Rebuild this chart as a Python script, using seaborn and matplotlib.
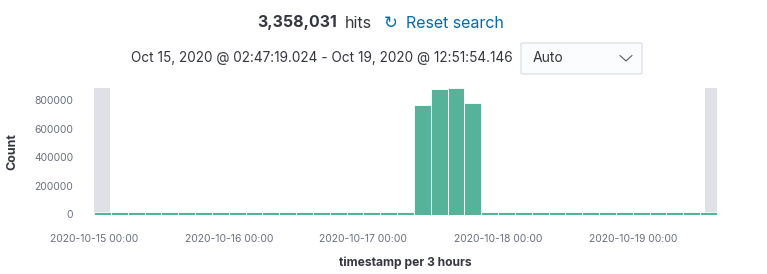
import numpy as np
import pandas as pd
import matplotlib
matplotlib.use("Agg")
import matplotlib.pyplot as plt
import matplotlib.dates as mdates
import seaborn as sns
from matplotlib.patches import FancyBboxPatch
from matplotlib.lines import Line2D

# ---------------- data ----------------
bin_starts = pd.date_range("2020-10-15 00:00", "2020-10-19 12:00", freq="3h")
counts = [
    14000, 14000, 14000, 14000, 14000, 14000, 14000, 14000,   # Oct 15
    14000, 14000, 14000, 14000, 14000, 14000, 14000, 14000,   # Oct 16
    14000, 14000, 14000, 769000, 876000, 885000, 778000, 14000,  # Oct 17
    14000, 14000, 14000, 14000, 14000, 14000, 14000, 14000,   # Oct 18
    14000, 14000, 14000, 14000, 14000,                        # Oct 19
]
range_start = pd.Timestamp("2020-10-15 02:47:19.024")
range_end = pd.Timestamp("2020-10-19 12:51:54.146")
axis_start = pd.Timestamp("2020-10-15 00:00")
axis_end = pd.Timestamp("2020-10-19 15:00")
y_ticks = [0, 200000, 400000, 600000, 800000]
hits_text = "3,358,031"
range_text = "Oct 15, 2020 @ 02:47:19.024 - Oct 19, 2020 @ 12:51:54.146"

# ---------------- style ----------------
sns.set_style("white")
plt.rcParams["font.family"] = ["Inter", "DejaVu Sans"]

W, H = 767, 274
fig = plt.figure(figsize=(W / 100, H / 100), dpi=100)
ax = fig.add_axes([94 / W, 1 - 214.5 / H, (717 - 94) / W, (214.5 - 88) / H])

x0 = mdates.date2num(axis_start)
x1 = mdates.date2num(axis_end)
centers = mdates.date2num(bin_starts + pd.Timedelta(hours=1.5))
df = pd.DataFrame({"t": centers, "count": counts})

ax.axvspan(x0, mdates.date2num(range_start), color="#E0E1E6", zorder=0, lw=0)
ax.axvspan(mdates.date2num(range_end), x1, color="#E0E1E6", zorder=0, lw=0)

sns.histplot(data=df, x="t", weights="count", bins=len(counts), binrange=(x0, x1),
             color="#54B399", alpha=1, edgecolor="white", linewidth=0.6, ax=ax, zorder=2)

ax.set_xlim(x0, x1)
ax.set_ylim(0, max(counts))
ax.set_yticks(y_ticks)
ax.set_yticklabels([str(v) for v in y_ticks])
ax.xaxis.set_major_locator(mdates.DayLocator())
ax.xaxis.set_major_formatter(mdates.DateFormatter("%Y-%m-%d %H:%M"))
for s in ax.spines.values():
    s.set_visible(False)
ax.tick_params(axis="both", length=0, labelsize=7.5, labelcolor="#69707D")
ax.tick_params(axis="y", pad=15)
ax.tick_params(axis="x", pad=14)
ax.set_xlabel("timestamp per 3 hours", fontsize=8.7, fontweight="bold", color="#343741", labelpad=9)
ax.set_ylabel("Count", fontsize=9, fontweight="bold", color="#343741", labelpad=11)
ax.grid(False)

# ---------------- header ----------------
def fy(y):
    return 1 - y / H

fig.text(257 / W, fy(23), hits_text, fontsize=11.5, fontweight="bold", color="#343741",
         ha="left", va="center")
fig.text(345 / W, fy(23), "hits", fontsize=11.5, color="#343741", ha="left", va="center")
fig.text(384 / W, fy(23), "\u21bb", fontsize=12, color="#006BB4", ha="left", va="center",
         family="DejaVu Sans")
fig.text(406 / W, fy(23), "Reset search", fontsize=11.5, color="#006BB4", ha="left", va="center")

fig.text(513 / W, fy(58), range_text, fontsize=9.8, color="#343741", ha="right", va="center")

box = FancyBboxPatch((521 / W, fy(74)), (642 - 521) / W, (74 - 43) / H,
                     boxstyle="round,pad=0,rounding_size=0.004",
                     transform=fig.transFigure, facecolor="#FBFCFD",
                     edgecolor="#DDE1E9", linewidth=1)
fig.patches.append(box)
fig.text(533 / W, fy(58), "Auto", fontsize=10, color="#343741", ha="left", va="center")
fig.lines.append(Line2D([620 / W, 626 / W, 632 / W], [fy(55.5), fy(61), fy(55.5)],
                        transform=fig.transFigure, color="#535966", lw=0.8))

fig.savefig("out.png", dpi=100)
